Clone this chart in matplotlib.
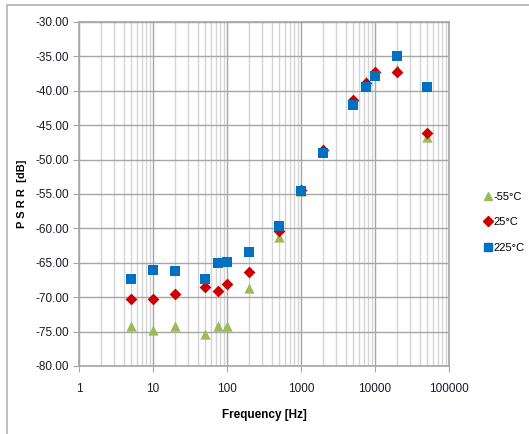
import matplotlib
matplotlib.use("Agg")
import matplotlib.pyplot as plt
from matplotlib.ticker import LogLocator, FixedLocator, FuncFormatter, NullFormatter
from matplotlib.lines import Line2D
from matplotlib.patches import Rectangle

plt.rcParams['font.family'] = ['Liberation Sans', 'DejaVu Sans']

freq = [5, 10, 20, 50, 75, 100, 200, 500, 1000, 2000, 5000, 7500, 10000, 20000, 50000]
psrr_m55 = [-74.2, -74.7, -74.2, -75.3, -74.2, -74.2, -68.7, -61.2, -54.6, -48.4, -41.3, -38.6, -37.1, -36.9, -46.7]
psrr_25 = [-70.2, -70.2, -69.6, -68.5, -69.1, -68.1, -66.4, -60.4, -54.4, -48.6, -41.3, -38.8, -37.3, -37.3, -46.1]
psrr_225 = [-67.3, -66.0, -66.2, -67.4, -65.0, -64.9, -63.5, -59.6, -54.5, -49.1, -42.0, -39.4, -37.9, -34.9, -39.5]
labels = ['-55°C', '25°C', '225°C']
y_ticks = [-30, -35, -40, -45, -50, -55, -60, -65, -70, -75, -80]
x_ticks = [1, 10, 100, 1000, 10000, 100000]

W, H = 529, 434
fig = plt.figure(figsize=(W / 100, H / 100), dpi=100)
ax = fig.add_axes([79 / W, 1 - 366 / H, (449 - 79) / W, (366 - 22) / H])

# figure border (cropped frame)
fig.patches.append(Rectangle((7 / W, -0.05), 1.2, (1 - 5 / H) + 0.05, transform=fig.transFigure,
                             fill=False, edgecolor='#b4b4b4', linewidth=1.2))

ax.set_xscale('log')
ax.set_xlim(1, 100000)
ax.set_ylim(-80, -30)

ax.scatter(freq, psrr_m55, marker='^', s=55, color='#9BBB59', zorder=3, linewidths=0)
ax.scatter(freq, psrr_25, marker='D', s=36, color='#CC0000', zorder=4, linewidths=0)
ax.scatter(freq, psrr_225, marker='s', s=60, color='#0070C0', zorder=5, linewidths=0)

ax.xaxis.set_major_locator(FixedLocator(x_ticks))
ax.xaxis.set_minor_locator(LogLocator(base=10, subs=range(2, 10), numticks=20))
ax.xaxis.set_minor_formatter(NullFormatter())
ax.xaxis.set_major_formatter(FuncFormatter(lambda v, p: f"{v:.0f}"))
ax.yaxis.set_major_locator(FixedLocator(y_ticks))
ax.yaxis.set_major_formatter(FuncFormatter(lambda v, p: f"{v:.2f}"))

ax.grid(which='major', color='#a6a6a6', linewidth=1.0, zorder=1)
ax.grid(which='minor', axis='x', color='#d4d4d4', linewidth=1.0, zorder=1)
ax.set_axisbelow(True)

for sp in ax.spines.values():
    sp.set_color('#a6a6a6')
    sp.set_linewidth(1.2)

ax.tick_params(axis='both', which='major', length=4, color='#a6a6a6', labelsize=8.5,
               labelcolor='#1a1a2a', pad=3)
ax.tick_params(axis='x', which='major', pad=8)
ax.tick_params(axis='x', which='minor', length=0)

ax.set_xlabel('Frequency [Hz]', fontsize=8.5, fontweight='bold', labelpad=10)
fig.text(22 / W, 1 - 194 / H, 'P S R R  [dB]', rotation=90, fontsize=8, fontweight='bold',
         ha='center', va='center')

handles = [
    Line2D([], [], marker='^', linestyle='none', color='#9BBB59', markersize=6),
    Line2D([], [], marker='D', linestyle='none', color='#CC0000', markersize=5),
    Line2D([], [], marker='s', linestyle='none', color='#0070C0', markersize=6),
]
fig.legend(handles, labels, loc='upper left', bbox_to_anchor=(479 / W, 1 - 186 / H),
           frameon=False, fontsize=8, handlelength=0.6, handletextpad=0.2,
           labelspacing=1.4, borderpad=0)

fig.savefig('out.png', dpi=100)
